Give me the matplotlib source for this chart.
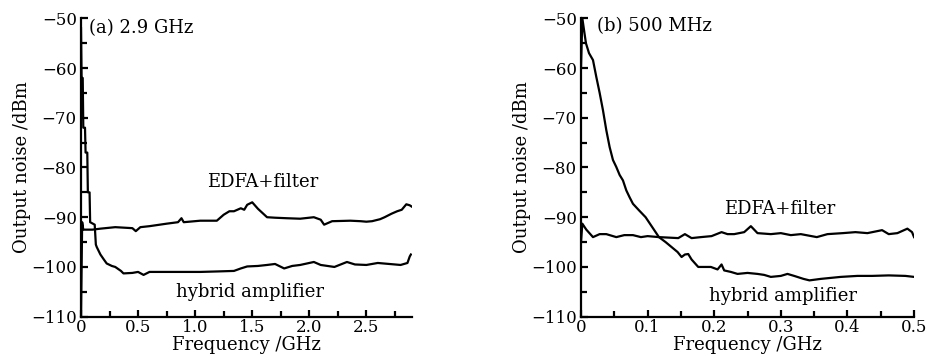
import matplotlib
matplotlib.use("Agg")
import matplotlib.pyplot as plt
from matplotlib.ticker import MultipleLocator

plt.rcParams['font.family'] = ['DejaVu Serif']
plt.rcParams['mathtext.fontset'] = 'dejavuserif'

# (a) 2.9 GHz span
a_hyb_f = [0, 0.005, 0.015, 0.02, 0.035, 0.04, 0.055, 0.06, 0.075, 0.08, 0.12, 0.13,
           0.138, 0.17, 0.2, 0.225, 0.27, 0.3, 0.35, 0.372, 0.45, 0.5, 0.548, 0.6, 0.75,
           0.9, 1.045, 1.2, 1.34, 1.4, 1.456, 1.55, 1.63, 1.7, 1.78, 1.85, 1.92, 2.04,
           2.1, 2.22, 2.33, 2.4, 2.5, 2.6, 2.7, 2.8, 2.86, 2.88, 2.89]
a_hyb_v = [-52, -62, -62, -72, -72, -77, -77, -85, -85, -91, -91.5, -95.5,
           -96, -97.5, -98.5, -99.3, -99.8, -100, -100.8, -101.3, -101.2, -101, -101.6, -101, -101,
           -101, -101, -100.9, -100.8, -100.3, -99.9, -99.8, -99.6, -99.4, -100.3, -99.8, -99.6, -99,
           -99.6, -100, -99, -99.5, -99.6, -99.2, -99.4, -99.6, -99.2, -97.9, -97.5]

a_edfa_f = [0, 0.01, 0.02, 0.1, 0.17, 0.3, 0.45, 0.48, 0.52, 0.6, 0.75, 0.85, 0.88, 0.9,
            1.045, 1.19, 1.25, 1.3, 1.34, 1.4, 1.43, 1.456, 1.5, 1.55, 1.63, 1.7, 1.8,
            1.92, 2.04, 2.1, 2.13, 2.2, 2.36, 2.45, 2.5, 2.55, 2.62, 2.66, 2.72, 2.77,
            2.81, 2.85, 2.88, 2.9]
a_edfa_v = [-110, -91, -92.5, -92.5, -92.3, -92, -92.2, -92.8, -92, -91.8, -91.3, -91, -90.2, -91,
            -90.7, -90.7, -89.5, -88.8, -88.8, -88.2, -88.5, -87.5, -87.0, -88.3, -90, -90.1, -90.2,
            -90.3, -90, -90.5, -91.5, -90.8, -90.7, -90.8, -90.9, -90.8, -90.4, -90, -89.3, -88.8,
            -88.5, -87.4, -87.6, -87.9]

# (b) 500 MHz span
b_hyb_f = [0, 0.002, 0.0074, 0.012, 0.018, 0.023, 0.028, 0.033, 0.038, 0.043, 0.048, 0.053,
           0.058, 0.063, 0.068, 0.073, 0.078, 0.087, 0.097, 0.102, 0.107, 0.112, 0.117,
           0.127, 0.136, 0.145, 0.151, 0.156, 0.161, 0.166, 0.176, 0.185, 0.195, 0.205,
           0.211, 0.215, 0.225, 0.235, 0.25, 0.265, 0.275, 0.285, 0.3, 0.31, 0.32, 0.334,
           0.343, 0.36, 0.375, 0.39, 0.415, 0.437, 0.462, 0.487, 0.5]
b_hyb_v = [-60, -50, -55, -57, -58.4, -61.8, -65, -68.5, -72.5, -75.9, -78.5, -79.9,
           -81.5, -82.6, -84.6, -86, -87.3, -88.6, -90, -91, -92, -93, -94,
           -95, -96, -97, -98, -97.5, -97.4, -98.5, -100, -100, -100, -100.5,
           -99.5, -100.7, -101, -101.4, -101.2, -101.4, -101.6, -102, -101.8, -101.4, -101.8, -102.4,
           -102.7, -102.4, -102.2, -102, -101.8, -101.8, -101.7, -101.8, -102]

b_edfa_f = [0, 0.002, 0.008, 0.018, 0.028, 0.038, 0.053, 0.065, 0.078, 0.09, 0.1, 0.117,
            0.146, 0.156, 0.166, 0.18, 0.196, 0.211, 0.22, 0.23, 0.245, 0.255, 0.265,
            0.285, 0.3, 0.315, 0.33, 0.354, 0.37, 0.393, 0.412, 0.43, 0.452, 0.462,
            0.475, 0.49, 0.497, 0.5]
b_edfa_v = [-95, -91.3, -92.5, -94, -93.4, -93.4, -94, -93.6, -93.6, -94, -93.8, -94,
            -94.2, -93.4, -94.2, -94, -93.8, -93, -93.4, -93.4, -93, -91.8, -93.2,
            -93.4, -93.2, -93.6, -93.4, -94, -93.4, -93.2, -93, -93.2, -92.6, -93.4,
            -93.2, -92.3, -93, -94]

y_ticks = [-110, -100, -90, -80, -70, -60, -50]


def style_axes(ax, xmax, xmajor, xminor, xfmt):
    ax.spines['top'].set_visible(False)
    ax.spines['right'].set_visible(False)
    ax.spines['left'].set_linewidth(1.6)
    ax.spines['bottom'].set_linewidth(1.6)
    ax.set_xlim(0, xmax)
    ax.set_ylim(-110, -50)
    ax.set_yticks(y_ticks)
    ax.yaxis.set_minor_locator(MultipleLocator(5))
    ax.xaxis.set_major_locator(MultipleLocator(xmajor))
    ax.xaxis.set_minor_locator(MultipleLocator(xminor))
    ax.xaxis.set_major_formatter(xfmt)
    ax.tick_params(which='both', direction='in', width=1.6, labelsize=12)
    ax.tick_params(axis='x', pad=2)
    ax.tick_params(axis='y', pad=3)
    ax.tick_params(which='major', length=5)
    ax.tick_params(which='minor', length=4)
    ax.set_xlabel('Frequency /GHz', fontsize=13, labelpad=0)
    ax.set_ylabel('Output noise /dBm', fontsize=13, labelpad=0)


def fmt_a(v, pos):
    return '0' if v == 0 else f'{v:.1f}'


fig = plt.figure(figsize=(9.29, 3.63), dpi=100)
ax1 = fig.add_axes([0.0872, 0.1276, 0.3563, 0.822])
ax2 = fig.add_axes([0.6254, 0.1276, 0.3585, 0.822])

ax1.plot(a_hyb_f, a_hyb_v, color='black', lw=1.6)
ax1.plot(a_edfa_f, a_edfa_v, color='black', lw=1.6)
style_axes(ax1, 2.9, 0.5, 0.25, fmt_a)
ax1.text(0.07, -52, '(a) 2.9 GHz', fontsize=13, va='center')
ax1.text(1.59, -82.9, 'EDFA+filter', fontsize=13, ha='center', va='center')
ax1.text(1.48, -105, 'hybrid amplifier', fontsize=13, ha='center', va='center')

ax2.plot(b_hyb_f, b_hyb_v, color='black', lw=1.6)
ax2.plot(b_edfa_f, b_edfa_v, color='black', lw=1.6)
style_axes(ax2, 0.5, 0.1, 0.05, fmt_a)
ax2.text(0.024, -51.5, '(b) 500 MHz', fontsize=13, va='center')
ax2.text(0.299, -88.4, 'EDFA+filter', fontsize=13, ha='center', va='center')
ax2.text(0.303, -105.8, 'hybrid amplifier', fontsize=13, ha='center', va='center')

fig.savefig('out.png', dpi=100)
